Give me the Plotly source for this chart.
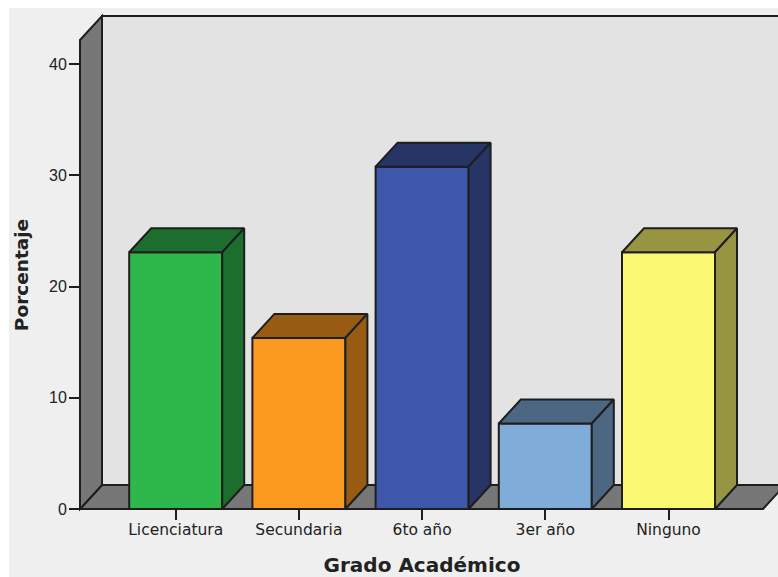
import plotly.graph_objects as go

categories = ["Licenciatura", "Secundaria", "6to año", "3er año", "Ninguno"]
percentages = [23.08, 15.38, 30.77, 7.69, 23.08]
front_colors = ["#2eb84b", "#fb9a1e", "#3f57ab", "#7facd8", "#fbf972"]
side_colors = ["#1b6e2d", "#975c12", "#263466", "#4c6782", "#979542"]
y_ticks = [0, 10, 20, 30, 40]

WIDTH, HEIGHT = 778, 577
OUTLINE = "#1e1e1e"
WALL_GREY = "#777777"
BACK_GREY = "#e3e3e3"

# pixel scale of the plot: one category step and one percentage point
PX_PER_CAT = 123.2
PX_PER_PCT = 11.125
X0_PX, Y0_PX = 175.7, 509.0
LEFT, RIGHT, TOP, BOTTOM = 66, 778, 12, 538

# oblique projection offset of the chart depth, in data units
DX = 22 / PX_PER_CAT
DY = 24 / PX_PER_PCT
BAR_WIDTH = 93 / PX_PER_CAT

x_range = [(LEFT - X0_PX) / PX_PER_CAT, (RIGHT - X0_PX) / PX_PER_CAT]
y_range = [(Y0_PX - BOTTOM) / PX_PER_PCT, (Y0_PX - TOP) / PX_PER_PCT]
x_wall = (80 - X0_PX) / PX_PER_CAT
x_floor_end = (763 - X0_PX) / PX_PER_CAT
y_wall = (Y0_PX - 40) / PX_PER_PCT


def poly(points, fill):
    path = "M" + " L".join(f"{x},{y}" for x, y in points) + " Z"
    return dict(type="path", path=path, xref="x", yref="y", layer="below",
                fillcolor=fill, line=dict(color=OUTLINE, width=2))


shapes = [
    # page panel
    dict(type="rect", xref="paper", yref="paper", layer="below",
         x0=(9 - LEFT) / (RIGHT - LEFT), x1=1,
         y0=(BOTTOM - HEIGHT) / (BOTTOM - TOP), y1=(BOTTOM - 8) / (BOTTOM - TOP),
         fillcolor="#efefef", line=dict(width=0)),
    # back wall, floor and left wall
    poly([(x_wall + DX, DY), (x_wall + DX, y_wall + DY),
          (x_range[1] + 1, y_wall + DY), (x_range[1] + 1, DY)], BACK_GREY),
    poly([(x_wall, 0), (x_wall + DX, DY), (x_floor_end + DX, DY), (x_floor_end, 0)], WALL_GREY),
    poly([(x_wall, 0), (x_wall, y_wall), (x_wall + DX, y_wall + DY), (x_wall + DX, DY)], WALL_GREY),
]

fig = go.Figure()

# front faces
fig.add_trace(go.Bar(
    x=list(range(len(categories))), y=percentages, width=BAR_WIDTH,
    marker=dict(color=front_colors, line=dict(color=OUTLINE, width=2)),
    hoverinfo="skip", showlegend=False,
))

# top and side faces follow from each bar's value
for i, value in enumerate(percentages):
    x0, x1 = i - BAR_WIDTH / 2, i + BAR_WIDTH / 2
    faces = [
        ([x0, x0 + DX, x1 + DX, x1, x0], [value, value + DY, value + DY, value, value]),
        ([x1, x1 + DX, x1 + DX, x1, x1], [0, DY, value + DY, value, 0]),
    ]
    for xs, ys in faces:
        fig.add_trace(go.Scatter(
            x=xs, y=ys, mode="lines", fill="toself", fillcolor=side_colors[i],
            line=dict(color=OUTLINE, width=2), hoverinfo="skip", showlegend=False,
        ))

fig.update_layout(
    width=WIDTH, height=HEIGHT,
    margin=dict(l=LEFT, r=WIDTH - RIGHT, t=TOP, b=HEIGHT - BOTTOM),
    paper_bgcolor="white", plot_bgcolor="rgba(0,0,0,0)",
    shapes=shapes,
    font=dict(family="Liberation Sans", size=15, color="#222222"),
    xaxis=dict(
        range=x_range, tickmode="array", tickvals=list(range(len(categories))),
        ticktext=categories, showgrid=False, zeroline=False, showline=False,
        tickfont=dict(family="DejaVu Sans", size=15.5),
        ticks="outside", ticklen=10, tickwidth=2, tickcolor=OUTLINE,
        ticklabelstandoff=-4,
        anchor="free", position=(BOTTOM - Y0_PX) / (BOTTOM - TOP),
        title=dict(text="<b>Grado Académico</b>", standoff=23,
                   font=dict(family="DejaVu Sans", size=20)),
    ),
    yaxis=dict(
        range=y_range, tickmode="array", tickvals=y_ticks,
        showgrid=False, zeroline=False, showline=False,
        tickfont=dict(size=16),
        ticks="outside", ticklen=11, tickwidth=2, tickcolor=OUTLINE,
        ticklabelstandoff=-1,
        anchor="free", position=(80 - LEFT) / (RIGHT - LEFT),
        title=dict(text="<b>Porcentaje</b>", standoff=14,
                   font=dict(family="DejaVu Sans", size=18.5)),
    ),
)

fig.write_html("out.html", config=dict(displayModeBar=False))
